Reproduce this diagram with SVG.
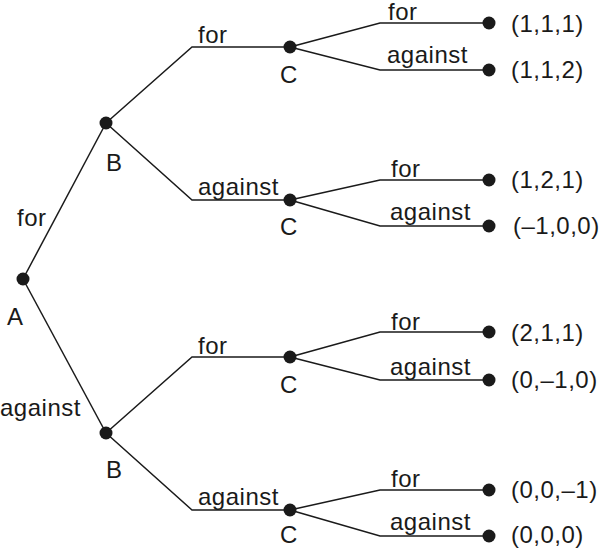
<svg xmlns="http://www.w3.org/2000/svg" width="600" height="549" viewBox="0 0 600 549">
<style>
.e{fill:none;stroke:#1a1a1a;stroke-width:1.5}
.d{fill:#1a1a1a}
text{font-family:"Liberation Sans",Arial,Helvetica,sans-serif;font-size:24px;fill:#1a1a1a;letter-spacing:0.5px}
</style>
<rect width="600" height="549" fill="#fff"/>
<g id="connectors">
<path class="e" d="M23,279 L106,123"/>
<path class="e" d="M23,279 L106,433"/>
<path class="e" d="M106,123 L192,47 L290,47"/>
<path class="e" d="M106,123 L192,200 L290,200"/>
<path class="e" d="M106,433 L192,357 L290,357"/>
<path class="e" d="M106,433 L192,510 L290,510"/>
<path class="e" d="M290,47 L380,23 L489,23"/>
<path class="e" d="M290,47 L380,70 L489,70"/>
<path class="e" d="M290,200 L380,180 L489,180"/>
<path class="e" d="M290,200 L380,226 L489,226"/>
<path class="e" d="M290,357 L380,332 L489,332"/>
<path class="e" d="M290,357 L380,380 L489,380"/>
<path class="e" d="M290,510 L380,490 L489,490"/>
<path class="e" d="M290,510 L380,536 L489,536"/>
<text x="17" y="226">for</text>
<text x="0" y="416">against</text>
<text x="198" y="43">for</text>
<text x="198" y="195">against</text>
<text x="198" y="354">for</text>
<text x="198" y="505">against</text>
<text x="388" y="20">for</text>
<text x="387" y="63">against</text>
<text x="391" y="177">for</text>
<text x="390" y="220">against</text>
<text x="391" y="330">for</text>
<text x="390" y="375">against</text>
<text x="391" y="487">for</text>
<text x="390" y="530">against</text>
</g>
<g id="A"><circle class="d" cx="23" cy="279" r="6.5"/><text x="7" y="325">A</text></g>
<g id="B1"><circle class="d" cx="106" cy="123" r="6.5"/><text x="106" y="171">B</text></g>
<g id="B2"><circle class="d" cx="106" cy="433" r="6.5"/><text x="106" y="478">B</text></g>
<g id="C1"><circle class="d" cx="290" cy="47" r="6.5"/><text x="280" y="83">C</text></g>
<g id="C2"><circle class="d" cx="290" cy="200" r="6.5"/><text x="280" y="235">C</text></g>
<g id="C3"><circle class="d" cx="290" cy="357" r="6.5"/><text x="280" y="393">C</text></g>
<g id="C4"><circle class="d" cx="290" cy="510" r="6.5"/><text x="280" y="543">C</text></g>
<g id="L1"><circle class="d" cx="489" cy="23" r="6.5"/><text x="511" y="32">(1,1,1)</text></g>
<g id="L2"><circle class="d" cx="489" cy="70" r="6.5"/><text x="511" y="78">(1,1,2)</text></g>
<g id="L3"><circle class="d" cx="489" cy="180" r="6.5"/><text x="511" y="188">(1,2,1)</text></g>
<g id="L4"><circle class="d" cx="489" cy="226" r="6.5"/><text x="513" y="234">(–1,0,0)</text></g>
<g id="L5"><circle class="d" cx="489" cy="332" r="6.5"/><text x="511" y="341">(2,1,1)</text></g>
<g id="L6"><circle class="d" cx="489" cy="380" r="6.5"/><text x="511" y="388">(0,–1,0)</text></g>
<g id="L7"><circle class="d" cx="489" cy="490" r="6.5"/><text x="511" y="498">(0,0,–1)</text></g>
<g id="L8"><circle class="d" cx="489" cy="536" r="6.5"/><text x="511" y="543">(0,0,0)</text></g>
</svg>
